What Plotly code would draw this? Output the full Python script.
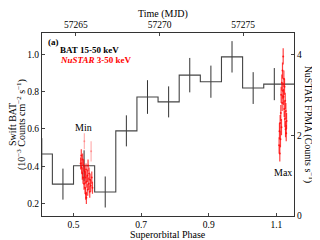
import plotly.graph_objects as go

# ---------------- data ----------------
bat_phase = [0.40625, 0.46875, 0.53125, 0.59375, 0.65625, 0.71875, 0.78125,
             0.84375, 0.90625, 0.96875, 1.03125, 1.09375, 1.15625]
bat_rate = [0.466, 0.305, 0.403, 0.263, 0.590, 0.771, 0.745,
            0.888, 0.853, 0.986, 0.819, 0.840, 0.840]
bat_err = [0.085, 0.083, 0.083, 0.083, 0.083, 0.090, 0.083,
           0.092, 0.086, 0.084, 0.085, 0.086, 0.085]

nu_min_phase = [0.521, 0.523, 0.524, 0.526, 0.527, 0.528, 0.530, 0.531, 0.533,
                0.534, 0.535, 0.536, 0.537, 0.538, 0.539, 0.541, 0.542, 0.543,
                0.545, 0.546, 0.548, 0.549, 0.551, 0.554, 0.556]
nu_min_rate = [1.30, 1.50, 1.20, 1.05, 1.40, 0.95, 1.25, 0.80, 1.10,
               0.70, 0.95, 0.55, 1.15, 0.45, 0.85, 1.00, 0.65, 1.25,
               0.80, 1.05, 0.60, 0.90, 0.75, 0.95, 0.70]
nu_min_err = [0.15] * 25

nu_faint_phase = [0.532, 0.552]
nu_faint_rate = [1.85, 1.60]
nu_faint_err = [0.20, 0.25]

nu_max_phase = [1.108, 1.109, 1.110, 1.111, 1.112, 1.113, 1.114, 1.115, 1.116,
                1.117, 1.118, 1.119, 1.120, 1.121, 1.122, 1.123, 1.124, 1.125,
                1.126, 1.127, 1.128, 1.129, 1.130]
nu_max_rate = [1.75, 2.10, 1.55, 2.30, 1.90, 2.55, 3.00, 2.20, 3.30,
               2.80, 3.60, 3.10, 3.95, 2.95, 3.40, 2.65, 3.20, 2.40,
               2.85, 2.15, 2.60, 2.05, 2.35]
nu_max_err = [0.20] * 23

x_ticks = [0.5, 0.7, 0.9, 1.1]
mjd_ticks = [57265, 57270, 57275]
left_ticks = [0.2, 0.4, 0.6, 0.8, 1.0]
right_ticks = [0, 2, 4]

FONT = "Liberation Serif"
fig = go.Figure()

fig.add_trace(go.Scatter(
    x=bat_phase, y=bat_rate, mode="lines", line_shape="hvh",
    line=dict(color="#444444", width=1.1),
    error_y=dict(type="data", array=bat_err, color="#333333", thickness=1, width=0),
    xaxis="x", yaxis="y", showlegend=False))

for px, py, pe, col in [(nu_min_phase, nu_min_rate, nu_min_err, "rgba(255,0,0,0.75)"),
                        (nu_max_phase, nu_max_rate, nu_max_err, "rgba(255,0,0,0.75)"),
                        (nu_faint_phase, nu_faint_rate, nu_faint_err, "rgba(255,60,60,0.4)")]:
    fig.add_trace(go.Scatter(
        x=px, y=py, mode="markers",
        marker=dict(color=col, size=2),
        error_y=dict(type="data", array=pe, color=col, thickness=1.2, width=0),
        xaxis="x", yaxis="y2", showlegend=False))

# invisible trace to activate top axis
fig.add_trace(go.Scatter(x=[57270], y=[0.5], mode="markers", marker=dict(opacity=0),
                         xaxis="x2", yaxis="y", showlegend=False, hoverinfo="skip"))

axcommon = dict(showgrid=False, zeroline=False, ticks="inside", ticklen=3,
                tickcolor="#444", linecolor="#333", linewidth=1, showline=True,
                tickfont=dict(family=FONT, size=9.5, color="black"))

fig.update_layout(
    width=320, height=240,
    margin=dict(l=34, r=34, t=18, b=32),
    paper_bgcolor="white", plot_bgcolor="white",
    font=dict(family=FONT, color="black"),
    xaxis=dict(range=[0.4068, 1.152], tickvals=x_ticks, tickformat=".1f", **axcommon),
    xaxis2=dict(range=[57262.97, 57278.04], tickvals=mjd_ticks, tickformat="d",
                overlaying="x", side="top", **axcommon),
    yaxis=dict(range=[0.1345, 1.1135], tickvals=left_ticks, tickformat=".1f", **axcommon),
    yaxis2=dict(range=[0, 4.53], tickvals=right_ticks, tickformat="d", overlaying="y",
                side="right", **axcommon),
)

ann = [
    dict(text="<b>(a)</b>", x=0.016, y=0.953, xanchor="left", size=9),
    dict(text="<b>BAT 15-50 keV</b>", x=0.0635, y=0.905, xanchor="left", size=9),
    dict(text="<b><i>NuSTAR</i> 3-50 keV</b>", x=0.0635, y=0.853, xanchor="left", size=9, color="red"),
    dict(text="Min", x=0.163, y=0.484, xanchor="center", size=10),
    dict(text="Max", x=0.955, y=0.237, xanchor="center", size=10),
    dict(text="Time (MJD)", x=0.48, y=1.105, xanchor="center", size=10),
    dict(text="Superorbital Phase", x=0.5, y=-0.102, xanchor="center", size=10),
    dict(text="Swift BAT", x=-0.117, y=0.5, xanchor="center", size=10, angle=-90),
    dict(text="(10<sup>\u22123</sup> Counts cm<sup>\u22122</sup> s<sup>\u22121</sup>)",
         x=-0.081, y=0.5, xanchor="center", size=10, angle=-90),
    dict(text="NuSTAR FPMA (Counts s<sup>\u22121</sup>)", x=1.059, y=0.5,
         xanchor="center", size=10, angle=90),
]
for a in ann:
    fig.add_annotation(text=a["text"], x=a["x"], y=a["y"], xref="paper", yref="paper",
                       xanchor=a["xanchor"], yanchor="middle", showarrow=False,
                       textangle=a.get("angle", 0),
                       font=dict(family=FONT, size=a["size"], color=a.get("color", "black")))

fig.write_html("out.html")
